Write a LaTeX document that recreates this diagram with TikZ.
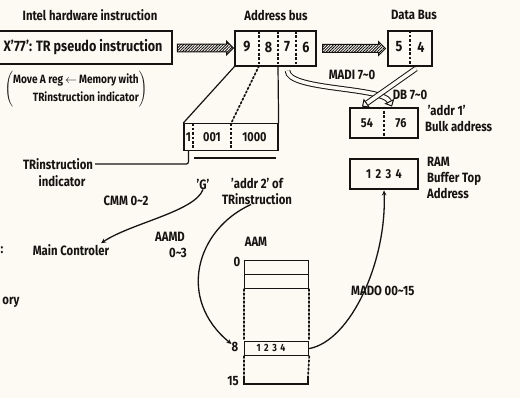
\documentclass[tikz,border=0pt]{standalone}
\usepackage{fontspec}
\setmainfont{Fira Sans}[FakeStretch=0.84]
\usepackage{tikz}
\usetikzlibrary{arrows.meta, positioning, calc, shapes.arrows, patterns.meta}
\definecolor{paper}{RGB}{252,250,242}
\definecolor{ink}{RGB}{22,20,18}
\newcommand{\tildech}{\textasciitilde}

\begin{document}
\begin{tikzpicture}[
        x=1pt, y=-1pt, ink,
        lbl/.style={inner sep=0pt, font=\fontsize{13.5}{16}\selectfont\bfseries},
        digit/.style={inner sep=0pt, font=\fontsize{15}{17}\selectfont\bfseries},
        regbox/.style={draw, line width=1.2pt, inner sep=0pt},
        thickbox/.style={draw, line width=2.8pt, inner sep=0pt},
        divider/.style={line width=1.3pt, dash pattern=on 2.6pt off 1.8pt},
        dotmap/.style={line width=1.7pt, dash pattern=on 1.8pt off 2.2pt, line cap=round},
        hatcharrow/.style={single arrow, draw, line width=1pt, inner sep=3.5pt, minimum height=#1,
            single arrow head extend=3pt, single arrow head indent=0pt,
            pattern={Lines[angle=45, distance=2pt, line width=0.8pt]}},
        busarrow/.style={double=paper, double distance=3.6pt, line width=1pt, -{Triangle[open, length=6pt, width=11pt]}},
        wire/.style={line width=1.3pt, -{Stealth[length=5pt, width=4.5pt]}},
        plain/.style={line width=1.2pt}
    ]
        \clip (0,0) rectangle (520,398);
        \fill[paper] (0,0) rectangle (520,398);

        % Intel instruction
        \node[lbl] (intel) at (90,15) {Intel hardware instruction};
        \node[regbox, minimum width=178pt, minimum height=33pt, font=\fontsize{15}{17}\selectfont\bfseries] (pseudo) at (83,47.5) {X'77': TR pseudo instruction};
        \node[lbl, font=\fontsize{12}{18}\selectfont\bfseries] (move) at (76,89) {$\left(\begin{tabular}{@{}r@{}}Move A reg\,$\leftarrow$\,Memory with\\TRinstruction indicator\end{tabular}\right)$};

        % Address bus
        \node[lbl] (abuslbl) at (276,15) {Address bus};
        \node[regbox, minimum width=81pt, minimum height=35pt] (abus) at (275.5,48.5) {};
        \foreach \x/\d in {247/9, 268.5/8, 287/7, 306/6}
            \node[digit] (a\d) at (\x,47) {\d};
        \foreach \x [count=\i] in {259,278,296} {
            \coordinate (adt\i) at (\x,31);
            \coordinate (adb\i) at (\x,66);
            \draw[divider] (adt\i) -- (adb\i);
        }

        % Data bus
        \node[lbl] (dbuslbl) at (414,15) {Data Bus};
        \node[regbox, minimum width=44pt, minimum height=35pt] (dbus) at (410,48.5) {};
        \draw[divider] (dbus.north) -- (dbus.south);
        \node[digit] (d5) at (399,47) {5};
        \node[digit] (d4) at (421,47) {4};

        % Hatched arrows
        \path (pseudo.east) -- (abus.west) node[midway, hatcharrow=56pt] (hatch1) {};
        \path (abus.east) -- (dbus.west) node[midway, hatcharrow=63pt] (hatch2) {};

        % Bulk address
        \node[thickbox, minimum width=68pt, minimum height=30pt] (bulk) at (384,123) {};
        \draw[divider] (bulk.north) -- (bulk.south);
        \node[digit, font=\fontsize{13}{15}\selectfont\bfseries] (b54) at (367,123) {54};
        \node[digit, font=\fontsize{13}{15}\selectfont\bfseries] (b76) at (401,123) {76};
        \node[lbl, align=left, anchor=north west] (addr1) at (425,105) {\ 'addr 1'\\Bulk address};

        % RAM buffer top
        \node[thickbox, minimum width=68pt, minimum height=30pt, font=\fontsize{13}{15}\selectfont\bfseries] (ram) at (384,174) {1\,\,2\,\,3\,\,4};
        \node[lbl, align=left, anchor=north west] (ramlbl) at (427,157) {RAM\\Buffer Top\\Address};

        % Bus labels and outline arrows
        \node[lbl] (madi) at (352,75) {MADI 7\tildech0};
        \node[lbl] (db) at (410,95) {DB 7\tildech0};
        \draw[busarrow] ([xshift=12pt, yshift=-4pt]abus.south) .. controls +(0,20) and +(-10,-20) .. ([xshift=8pt]bulk.north);
        \draw[busarrow] ([xshift=6pt, yshift=-2pt]dbus.south) -- ([xshift=-22pt]bulk.north);

        % TR instruction bits
        \node[regbox, minimum width=94pt, minimum height=27pt] (trbits) at (231,137) {};
        \foreach \x [count=\i] in {193,231} {
            \coordinate (tdt\i) at (\x,123.5);
            \coordinate (tdb\i) at (\x,150.5);
            \draw[divider] (tdt\i) -- (tdb\i);
        }
        \node[digit, font=\fontsize{13}{15}\selectfont\bfseries] (t1) at (188.5,137) {1};
        \node[digit, font=\fontsize{13}{15}\selectfont\bfseries] (t001) at (212,137) {001};
        \node[digit, font=\fontsize{13}{15}\selectfont\bfseries] (t1000) at (254.5,137) {1000};
        \draw[plain] (abus.south west) -- (trbits.north west);
        \draw[dotmap] (adb1) -- (tdt2);
        \draw[plain] (adb2) -- (trbits.north east);
        \draw[plain] ([xshift=11pt, yshift=-7pt]trbits.south west) -- ([xshift=-3pt, yshift=-7pt]trbits.south east);

        \node[lbl] (trind) at (58,164) {TRinstruction};
        \node[lbl] (ind) at (62,181) {indicator};
        \draw[plain, rounded corners=2pt] ([xshift=2pt]trind.east) -| ([xshift=5pt]trbits.south west);

        \node[lbl] (G) at (203,184) {'G'};
        \node[lbl, align=center] (addr2) at (257,191) {'addr 2' of\\TRinstruction};

        % Main controler
        \node[lbl] (cmm) at (126,201) {CMM 0\tildech2};
        \node[lbl] (main) at (71,250) {Main Controler};
        \draw[wire] (G.south) .. controls +(-8,22) and +(30,-20) .. ([xshift=30pt, yshift=1pt]main.north);

        % AAM
        \node[lbl] (aamd) at (170,237) {AAMD};
        \node[lbl] (aamdr) at (178,253) {0\tildech3};
        \node[lbl] (aamlbl) at (256,242) {AAM};
        \node[regbox, minimum width=64pt, minimum height=14pt, anchor=north west] (r0) at (244,260) {};
        \node[regbox, minimum width=64pt, minimum height=14pt, anchor=north west] (r1) at (244,274) {};
        \node[regbox, minimum width=64pt, minimum height=14pt, anchor=north west] (r8) at (244,341) {};
        \node[lbl, font=\fontsize{10.5}{12}\selectfont\bfseries] (r8txt) at (271,348) {1\,\,2\,\,3\,\,4};
        \coordinate (bl) at (244,377);
        \coordinate (br) at (308,377);
        \draw[dotmap] (r1.south west) -- (r8.north west);
        \draw[dotmap] (r1.south east) -- (r8.north east);
        \draw[dotmap] (r8.south west) -- (bl);
        \draw[dotmap] (r8.south east) -- (br);
        \draw[plain] (bl) |- (308,384) -- (br);
        \node[lbl] (zero) at (237,262) {0};
        \node[lbl] (eight) at (235,347) {8};
        \node[lbl] (fifteen) at (233,381) {15};
        \draw[wire] ([xshift=-6pt]addr2.south) .. controls +(-55,25) and +(-55,-45) .. ([yshift=3pt]eight.west);
        \node[lbl, anchor=west] (mado) at (351,291) {MADO 00\tildech15};
        \draw[wire] (r8.east) .. controls +(42,-8) and +(3,70) .. (ram.south);

        % page edge fragments
        \node[lbl] (frag1) at (2,250) {:};
        \node[lbl] (frag2) at (11,302) {ory};
    \end{tikzpicture}
\end{document}
